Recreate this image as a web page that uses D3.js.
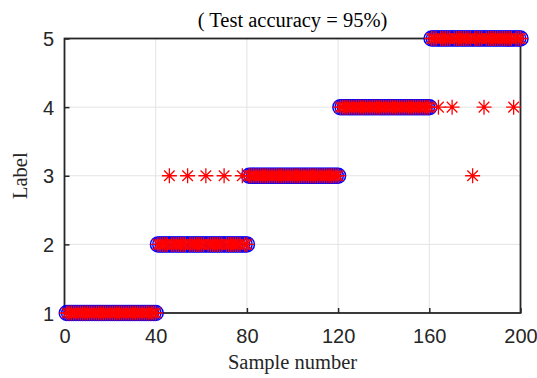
<!DOCTYPE html>
<html>
<head>
<meta charset="utf-8">
<script src="https://cdn.jsdelivr.net/npm/d3@7"></script>
<style>
  body { margin: 0; background: white; }
  svg { display: block; }
</style>
</head>
<body>
<div id="chart"></div>
<script>
// true label of each sample (samples 1..200)
const trueLabels = [
  1,1,1,1,1,1,1,1,1,1,1,1,1,1,1,1,1,1,1,1,1,1,1,1,1,1,1,1,1,1,1,1,1,1,1,1,1,1,1,1,
  2,2,2,2,2,2,2,2,2,2,2,2,2,2,2,2,2,2,2,2,2,2,2,2,2,2,2,2,2,2,2,2,2,2,2,2,2,2,2,2,
  3,3,3,3,3,3,3,3,3,3,3,3,3,3,3,3,3,3,3,3,3,3,3,3,3,3,3,3,3,3,3,3,3,3,3,3,3,3,3,3,
  4,4,4,4,4,4,4,4,4,4,4,4,4,4,4,4,4,4,4,4,4,4,4,4,4,4,4,4,4,4,4,4,4,4,4,4,4,4,4,4,
  5,5,5,5,5,5,5,5,5,5,5,5,5,5,5,5,5,5,5,5,5,5,5,5,5,5,5,5,5,5,5,5,5,5,5,5,5,5,5,5
];
// samples where the prediction differs from the true label
const wrongSamples = [46, 54, 62, 70, 78, 164, 170, 179, 184, 197];
const wrongLabels  = [3, 3, 3, 3, 3, 4, 4, 3, 4, 4];

const xTicks = [0, 40, 80, 120, 160, 200];
const yTicks = [1, 2, 3, 4, 5];
const accuracy = 95;

const w = 537;
const h = 378;
const padLeft = 64.5, padRight = 520.5, padTop = 38.5, padBottom = 313;

const trueData = trueLabels.map((l, i) => ({ x: i + 1, y: l }));
const predData = trueData.map(d => {
  const k = wrongSamples.indexOf(d.x);
  return { x: d.x, y: k >= 0 ? wrongLabels[k] : d.y };
});

const xScale = d3.scaleLinear().domain([0, 200]).range([padLeft, padRight]);
const yScale = d3.scaleLinear().domain([1, 5]).range([padBottom, padTop]);

const svg = d3.select("#chart").append("svg")
  .attr("width", w)
  .attr("height", h);

// grid
svg.append("g").selectAll("line")
  .data(xTicks)
  .enter().append("line")
  .attr("x1", d => xScale(d)).attr("x2", d => xScale(d))
  .attr("y1", padTop).attr("y2", padBottom)
  .attr("stroke", "#e3e3e3").attr("stroke-width", 1);
svg.append("g").selectAll("line")
  .data(yTicks)
  .enter().append("line")
  .attr("x1", padLeft).attr("x2", padRight)
  .attr("y1", d => yScale(d)).attr("y2", d => yScale(d))
  .attr("stroke", "#e3e3e3").attr("stroke-width", 1);

// axes (ticks inward)
const xAxis = d3.axisBottom(xScale).tickValues(xTicks).tickFormat(d3.format("d"))
  .tickSizeInner(-5).tickSizeOuter(0).tickPadding(16);
const yAxis = d3.axisLeft(yScale).tickValues(yTicks).tickFormat(d3.format("d"))
  .tickSizeInner(-5).tickSizeOuter(0).tickPadding(10.5);

const gx = svg.append("g")
  .attr("transform", "translate(0," + padBottom + ")")
  .call(xAxis);
const gy = svg.append("g")
  .attr("transform", "translate(" + padLeft + ",0)")
  .call(yAxis);

[gx, gy].forEach(g => {
  g.select(".domain").remove();
  g.selectAll(".tick line").attr("stroke", "#262626").attr("stroke-width", 1.5);
  g.selectAll(".tick text")
    .attr("fill", "#262626")
    .style("font-family", "Liberation Sans, Arial, sans-serif")
    .style("font-size", "20px");
});
gy.selectAll(".tick text").attr("dy", "0.36em");

// box
svg.append("rect")
  .attr("x", padLeft).attr("y", padTop)
  .attr("width", padRight - padLeft).attr("height", padBottom - padTop)
  .attr("fill", "none")
  .attr("stroke", "#262626")
  .attr("stroke-width", 1.8);

// true labels: blue circles
svg.append("g").selectAll("circle")
  .data(trueData)
  .enter().append("circle")
  .attr("cx", d => xScale(d.x))
  .attr("cy", d => yScale(d.y))
  .attr("r", 7.5)
  .attr("fill", "none")
  .attr("stroke", "#0000ff")
  .attr("stroke-width", 1.5);

// predicted labels: red asterisks
const s = 7.5, s2 = 5.3;
const star = `M${-s},0L${s},0M0,${-s}L0,${s}M${-s2},${-s2}L${s2},${s2}M${-s2},${s2}L${s2},${-s2}`;
svg.append("g").selectAll("path")
  .data(predData)
  .enter().append("path")
  .attr("transform", d => "translate(" + xScale(d.x) + "," + yScale(d.y) + ")")
  .attr("d", star)
  .attr("fill", "none")
  .attr("stroke", "#ff0000")
  .attr("stroke-width", 1.3);

// title and labels
svg.append("text")
  .attr("x", (padLeft + padRight) / 2)
  .attr("y", 27)
  .attr("text-anchor", "middle")
  .style("font-family", "Liberation Serif, Times New Roman, serif")
  .style("font-size", "20.5px")
  .text("( Test accuracy = " + accuracy + "%)");

svg.append("text")
  .attr("x", (padLeft + padRight) / 2)
  .attr("y", 369)
  .attr("text-anchor", "middle")
  .attr("fill", "#262626")
  .style("font-family", "Liberation Serif, Times New Roman, serif")
  .style("font-size", "20.5px")
  .text("Sample number");

svg.append("text")
  .attr("transform", "rotate(-90)")
  .attr("x", -(padTop + padBottom) / 2)
  .attr("y", 27)
  .attr("text-anchor", "middle")
  .attr("fill", "#262626")
  .style("font-family", "Liberation Serif, Times New Roman, serif")
  .style("font-size", "20.5px")
  .text("Label");
</script>
</body>
</html>
